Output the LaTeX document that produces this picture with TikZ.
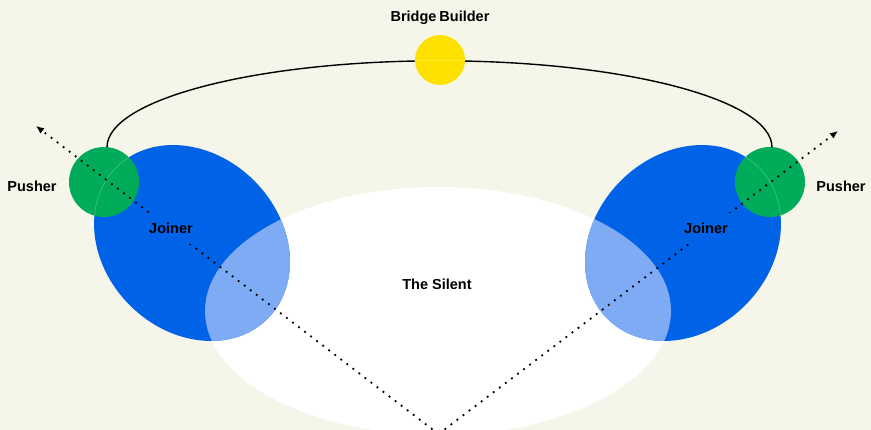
\documentclass[tikz,border=0pt]{standalone}
\usepackage{fontspec}
\setmainfont{Liberation Sans}
\usetikzlibrary{arrows.meta}
\definecolor{paper}{HTML}{F5F5EA}
\definecolor{joinblue}{HTML}{0062E6}
\definecolor{paleblue}{HTML}{7FABF5}
\definecolor{pushgreen}{HTML}{00AB5A}
\definecolor{sunyellow}{HTML}{FFE100}
% shapes reused for fills and clips
\def\silentshape{(438,-311) ellipse [x radius=233, y radius=124]}
\def\joinerL{(192,-243) ellipse [x radius=107, y radius=88]}
\def\joinerR{(683,-243) ellipse [x radius=107, y radius=88]}
\begin{document}
\begin{tikzpicture}[x=1pt,y=1pt,
  tag/.style={font=\fontsize{14.5}{16}\selectfont\bfseries, text=black, inner sep=0pt, anchor=base},
  pusher/.style={circle, fill=pushgreen, minimum size=70pt, inner sep=0pt},
  sun/.style={circle, fill=sunyellow, minimum size=50pt, inner sep=0pt},
  dotline/.style={line width=1.8pt, dash pattern=on 1.8pt off 5.8pt, -{Latex[length=8pt,width=7pt]}},
  bridgeline/.style={line width=1.4pt, black},
  faint/.style={white, opacity=.28, line width=.6pt}]
  % canvas
  \fill[paper] (0,0) rectangle (871,-430);
  \useasboundingbox (0,0) rectangle (871,-430);

  % the silent majority
  \fill[white] \silentshape;

  % joiners
  \fill[joinblue, rotate around={-45:(192,-243)}] \joinerL;
  \fill[joinblue, rotate around={45:(683,-243)}] \joinerR;
  \begin{scope}
    \clip \silentshape;
    \fill[paleblue, rotate around={-45:(192,-243)}] \joinerL;
    \fill[paleblue, rotate around={45:(683,-243)}] \joinerR;
  \end{scope}

  % pushers
  \node[pusher] (pushL) at (104,-182) {};
  \node[pusher] (pushR) at (770,-182) {};
  \begin{scope}
    \clip (104,-182) circle (35);
    \draw[faint, rotate around={-45:(192,-243)}] \joinerL;
  \end{scope}
  \begin{scope}
    \clip (770,-182) circle (35);
    \draw[faint, rotate around={45:(683,-243)}] \joinerR;
  \end{scope}

  % bridge between the pushers
  \draw[bridgeline] ([xshift=3pt,yshift=-0.5pt]pushL.north) arc [start angle=180, end angle=0, x radius=332.5, y radius=86.5];
  \node[sun] (bridge) at (440,-60) {};
  \draw[faint, opacity=.2] (bridge.west) -- (bridge.east);

  % axes of movement
  \coordinate (apex) at (438.5,-434);
  \coordinate (tipL) at (36,-126);
  \coordinate (tipR) at (838,-131);
  \draw[dotline] (apex) -- (tipL);
  \draw[dotline] (apex) -- (tipR);

  % labels
  \node[tag] (lblBridge) at (440,-22) {Bridge\hspace{-1pt} Builder};
  \node[tag] (lblPushL) at (32,-192) {Pusher};
  \node[tag] (lblPushR) at (841,-192) {Pusher};
  \node[tag, fill=joinblue, inner xsep=8pt, inner ysep=10pt] (lblJoinL) at (171,-234) {Joiner};
  \node[tag, fill=joinblue, inner xsep=8pt, inner ysep=10pt] (lblJoinR) at (706,-234) {Joiner};
  \node[tag] (lblSilent) at (437,-290) {The Silent};
\end{tikzpicture}
\end{document}
